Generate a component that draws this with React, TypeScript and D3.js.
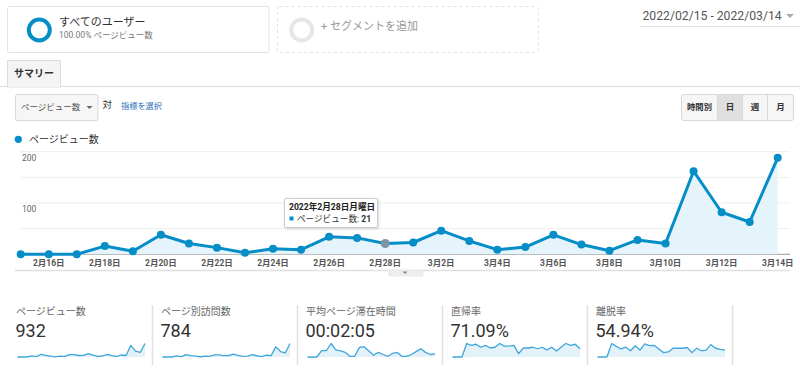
import React from 'react';
import * as d3 from 'd3';

const categories = [
  '2/15','2/16','2/17','2/18','2/19','2/20','2/21','2/22','2/23','2/24','2/25','2/26','2/27','2/28',
  '3/1','3/2','3/3','3/4','3/5','3/6','3/7','3/8','3/9','3/10','3/11','3/12','3/13','3/14',
];
const pageViews = [0,0,0,16,6,38,21,13,3,11,9,34,32,21,23,46,26,9,14,38,19,7,28,21,162,82,63,188];
const pageVisits = [0,0,0,13,5,30,18,11,3,10,8,27,26,18,19,36,21,8,12,31,16,6,23,18,130,70,52,173];
const avgTime = [0,0,0,18,18,38,20,17,13,2,2,27,29,17,5,13,7,2,10,13,2,2,7,15,23,13,7,9];
const bounceRate = [0,0,0,36,31,34,26,31,24,26,36,29,29,31,9,24,24,26,22,26,19,26,16,26,36,31,34,22];
const exitRate = [0,0,0,37,29,22,27,17,31,19,36,31,32,22,12,14,24,24,24,26,12,24,17,19,34,24,21,19];

const yGridTicks = [0, 50, 100, 150, 200];
const yLabelTicks = [100, 200];
const xTickCats = ['2/16','2/18','2/20','2/22','2/24','2/26','2/28','3/2','3/4','3/6','3/8','3/10','3/12','3/14'];
const xTickLabels = ['2月16日','2月18日','2月20日','2月22日','2月24日','2月26日','2月28日','3月2日','3月4日','3月6日','3月8日','3月10日','3月12日','3月14日'];

const metricTitles = ['ページビュー数','ページ別訪問数','平均ページ滞在時間','直帰率','離脱率'];
const metricValues = ['932','784','00:02:05','71.09%','54.94%'];
const metricSeries = [pageViews, pageVisits, avgTime, bounceRate, exitRate];

const hoverCat = '2/28';
const tooltipTitle = '2022年2月28日月曜日';
const tooltipLabel = 'ページビュー数: ';

const FONT = "Roboto, 'Noto Sans CJK JP', 'Noto Sans', sans-serif";
const BLUE = '#058dc7';

function Sparkline({ data, x0, x1 }: { data: number[]; x0: number; x1: number }) {
  const x = d3.scalePoint<string>().domain(categories).range([x0, x1]);
  const y = d3.scaleLinear().domain([0, d3.max(data) as number]).range([357, 343.5]);
  const line = d3.line<number>().x((_, i) => x(categories[i]) as number).y((d) => y(d));
  const area = d3.area<number>().x((_, i) => x(categories[i]) as number).y0(y(0)).y1((d) => y(d));
  return (
    <g>
      <path d={area(data) as string} fill="#e3f1f9" />
      <path d={line(data) as string} fill="none" stroke="#3fa6dc" strokeWidth={1.3} strokeLinejoin="round" />
    </g>
  );
}

export default function App() {
  const x = d3.scalePoint<string>().domain(categories).range([20.7, 777.7]);
  const y = d3.scaleLinear().domain([0, 200]).range([254.3, 151.7]);
  const line = d3.line<number>().x((_, i) => x(categories[i]) as number).y((d) => y(d));
  const area = d3.area<number>().x((_, i) => x(categories[i]) as number).y0(y(0)).y1((d) => y(d));
  const hi = categories.indexOf(hoverCat);

  return (
    <svg width={800} height={376} style={{ position: 'absolute', left: 0, top: 0, background: '#fff' }} fontFamily={FONT}>
      {/* segment cards */}
      <rect x={7.5} y={6.5} width={261.5} height={46} rx={2} fill="#fff" stroke="#e3e3e3" />
      <circle cx={39.3} cy={30} r={10.5} fill="none" stroke={BLUE} strokeWidth={4} />
      <text x={59} y={26} fontSize={11} fill="#333">すべてのユーザー</text>
      <text x={59} y={37.5} fontSize={8.5} fill="#777">100.00% ページビュー数</text>

      <rect x={277.5} y={6.5} width={261} height={46} rx={2} fill="#fff" stroke="#e3e3e3" strokeDasharray="3,3" />
      <circle cx={301.7} cy={30} r={10.5} fill="none" stroke="#e6e6e6" strokeWidth={4} />
      <text x={321} y={30} fontSize={11} fill="#999">+ セグメントを追加</text>

      {/* date range */}
      <text x={642.5} y={20} fontSize={12.2} fill="#555">2022/02/15 - 2022/03/14</text>
      <path d="M786,14 L794,14 L790,18 Z" fill="#aaa" />
      <line x1={640} x2={800} y1={26.5} y2={26.5} stroke="#e3e3e3" />

      {/* tab */}
      <line x1={0} x2={800} y1={86.5} y2={86.5} stroke="#ddd" />
      <rect x={7.5} y={60.5} width={53} height={26.5} fill="#f4f4f4" stroke="#ddd" />
      <line x1={8} x2={60} y1={86.5} y2={86.5} stroke="#f4f4f4" />
      <text x={14} y={76.5} fontSize={10} fontWeight="bold" fill="#333">サマリー</text>

      {/* metric dropdown */}
      <rect x={15.5} y={94.5} width={82.5} height={26} rx={2} fill="#f6f6f6" stroke="#d8d8d8" />
      <text x={21} y={109.5} fontSize={8.5} fill="#555">ページビュー数</text>
      <path d="M86.5,106 L92.5,106 L89.5,109 Z" fill="#666" />
      <text x={102.5} y={108} fontSize={9.5} fill="#333">対</text>
      <text x={121} y={108.5} fontSize={8.2} fill="#2a6ebb">指標を選択</text>

      {/* time buttons */}
      <rect x={681.5} y={94.5} width={112} height={26} rx={2} fill="#f6f6f6" stroke="#d8d8d8" />
      <rect x={717.5} y={95} width={25} height={25} fill="#e0e0e0" />
      {[717.5, 742.5, 767.5].map((bx) => (
        <line key={bx} x1={bx} x2={bx} y1={95} y2={120.5} stroke="#d8d8d8" />
      ))}
      <text x={699.5} y={109.5} fontSize={8.3} fontWeight="bold" fill="#333" textAnchor="middle">時間別</text>
      <text x={730} y={109.5} fontSize={8.5} fontWeight="bold" fill="#333" textAnchor="middle">日</text>
      <text x={755} y={109.5} fontSize={8.5} fontWeight="bold" fill="#333" textAnchor="middle">週</text>
      <text x={780.5} y={109.5} fontSize={8.5} fontWeight="bold" fill="#333" textAnchor="middle">月</text>

      {/* legend */}
      <circle cx={18.3} cy={139.3} r={3.6} fill={BLUE} />
      <text x={29} y={143.3} fontSize={10} fill="#333">ページビュー数</text>

      {/* main chart grid */}
      {yGridTicks.map((t) => (
        <line key={t} x1={20} x2={790} y1={y(t)} y2={y(t)}
          stroke={t === 0 ? '#999' : '#eeeeee'} strokeWidth={1} />
      ))}
      {yLabelTicks.map((t) => (
        <text key={t} x={22} y={y(t) + 9} fontSize={8.5} fill="#666">{t}</text>
      ))}

      <path d={area(pageViews) as string} fill="#e5f3fa" />
      <path d={line(pageViews) as string} fill="none" stroke={BLUE} strokeWidth={3} strokeLinejoin="round" />
      {pageViews.map((v, i) => (
        <circle key={i} cx={x(categories[i]) as number} cy={y(v)} r={i === hi ? 4.5 : 4}
          fill={i === hi ? '#7f93a3' : BLUE} />
      ))}

      {xTickCats.map((c, i) => (
        <text key={c} x={x(c) as number} y={266} fontSize={8.5} fill="#555" textAnchor="middle" fontWeight="bold">{xTickLabels[i]}</text>
      ))}

      {/* bottom line and handle */}
      <line x1={15} x2={790} y1={270.5} y2={270.5} stroke="#e0e0e0" strokeWidth={1.5} />
      <rect x={389} y={270} width={34} height={6} fill="#eeeeee" stroke="#e0e0e0" strokeWidth={0.5} />
      <path d="M402.5,271.5 L407.5,271.5 L405,274 Z" fill="#888" />

      {/* tooltip */}
      <rect x={284.5} y={198.5} width={93} height={29} fill="#fff" stroke="#ccc" rx={1.5}
        style={{ filter: 'drop-shadow(1px 1px 1.5px rgba(0,0,0,0.15))' }} />
      <text x={289} y={210} fontSize={8.6} fontWeight="bold" fill="#222">{tooltipTitle}</text>
      <rect x={289.5} y={216.5} width={4} height={4} fill={BLUE} />
      <text x={297} y={221.7} fontSize={8.6} fill="#333">
        {tooltipLabel}<tspan fontWeight="bold">{pageViews[hi]}</tspan>
      </text>

      {/* metric panels */}
      {metricTitles.map((title, i) => {
        const left = 8 + 145 * i;
        return (
          <g key={title}>
            {i > 0 && <line x1={left - 0.5} x2={left - 0.5} y1={305} y2={365} stroke="#e0e0e0" strokeWidth={1.5} />}
            <text x={left + 8} y={315} fontSize={10} fill="#666">{title}</text>
            <text x={left + 7.5} y={336.5} fontSize={18} fill="#333">{metricValues[i]}</text>
            <Sparkline data={metricSeries[i]} x0={left + 9.5} x1={left + 137} />
          </g>
        );
      })}
      <line x1={732.5} x2={732.5} y1={305} y2={365} stroke="#e0e0e0" strokeWidth={1.5} />
    </svg>
  );
}
